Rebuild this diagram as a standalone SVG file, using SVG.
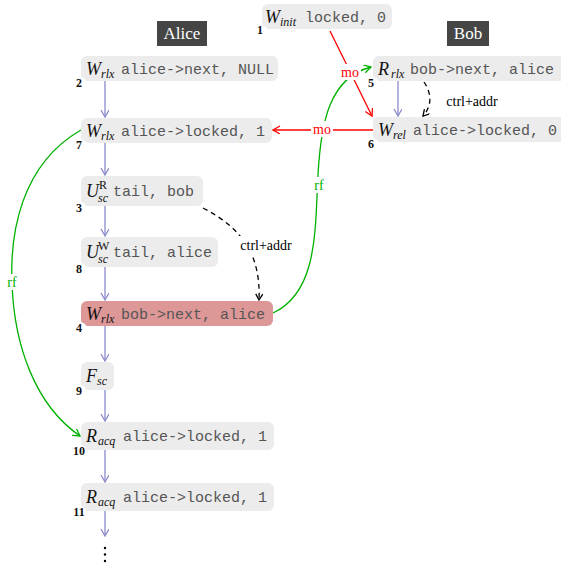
<svg xmlns="http://www.w3.org/2000/svg" width="561" height="567" viewBox="0 0 561 567">
  <style>
    .box { fill: #ececec; }
    .hot { fill: #dd9797; }
    .notch { fill: #ffffff; }
    .num { font-family: "Liberation Serif", serif; font-weight: bold; font-size: 12px; fill: #111; text-anchor: middle; }
    .op { font-family: "Liberation Serif", serif; font-style: italic; font-size: 18px; fill: #111; }
    .sub { font-family: "Liberation Serif", serif; font-style: italic; font-size: 12px; fill: #111; }
    .sup { font-family: "Liberation Serif", serif; font-size: 12px; fill: #111; }
    .code { font-family: "Liberation Mono", monospace; font-size: 15px; fill: #555; }
    .thread { fill: #454545; }
    .thread-t { font-family: "Liberation Serif", serif; font-size: 17px; fill: #fff; text-anchor: middle; }
    .po { stroke: #8a8acc; stroke-width: 1.3; fill: none; }
    .mo { stroke: #ff0000; stroke-width: 1.3; fill: none; }
    .rf { stroke: #00b000; stroke-width: 1.3; fill: none; }
    .dep { stroke: #000; stroke-width: 1.3; fill: none; stroke-dasharray: 5 4; }
    .lbl { font-family: "Liberation Serif", serif; font-size: 14px; text-anchor: middle; }
  </style>
  <defs>
    <marker id="ah-po" markerWidth="10" markerHeight="10" refX="8" refY="4" orient="auto" markerUnits="userSpaceOnUse">
      <path d="M1,0 L8,4 L1,8" fill="none" stroke="#8a8acc" stroke-width="1.3"/>
    </marker>
    <marker id="ah-mo" markerWidth="10" markerHeight="10" refX="8" refY="4" orient="auto" markerUnits="userSpaceOnUse">
      <path d="M1,0 L8,4 L1,8" fill="none" stroke="#ff0000" stroke-width="1.3"/>
    </marker>
    <marker id="ah-rf" markerWidth="10" markerHeight="10" refX="8" refY="4" orient="auto" markerUnits="userSpaceOnUse">
      <path d="M1,0 L8,4 L1,8" fill="none" stroke="#00b000" stroke-width="1.3"/>
    </marker>
    <marker id="ah-dep" markerWidth="10" markerHeight="10" refX="7" refY="3.5" orient="auto" markerUnits="userSpaceOnUse">
      <path d="M1,0 L7,3.5 L1,7" fill="none" stroke="#000" stroke-width="1.3"/>
    </marker>
  </defs>
  <rect width="561" height="567" fill="#ffffff"/>

  <!-- thread headers -->
  <g id="alice">
    <rect class="thread" x="157" y="21" width="50" height="25"/>
    <text class="thread-t" x="182" y="39">Alice</text>
  </g>
  <g id="bob">
    <rect class="thread" x="447" y="21" width="42" height="25"/>
    <text class="thread-t" x="468" y="39">Bob</text>
  </g>

  <!-- connectors -->
  <g id="edges">
    <!-- program order -->
    <line class="po" x1="105" y1="81" x2="105" y2="117" marker-end="url(#ah-po)"/>
    <line class="po" x1="105" y1="143" x2="105" y2="175" marker-end="url(#ah-po)"/>
    <line class="po" x1="105" y1="206" x2="105" y2="236" marker-end="url(#ah-po)"/>
    <line class="po" x1="105" y1="267" x2="105" y2="300" marker-end="url(#ah-po)"/>
    <line class="po" x1="105" y1="326" x2="105" y2="361" marker-end="url(#ah-po)"/>
    <line class="po" x1="105" y1="390" x2="105" y2="421" marker-end="url(#ah-po)"/>
    <line class="po" x1="105" y1="450" x2="105" y2="482" marker-end="url(#ah-po)"/>
    <line class="po" x1="105" y1="511" x2="105" y2="536" marker-end="url(#ah-po)"/>
    <line class="po" x1="398" y1="81" x2="398" y2="116" marker-end="url(#ah-po)"/>

    <!-- reads-from -->
    <path class="rf" d="M81,130 C20,165 10,235 12,283 C14,345 35,405 80,436" marker-end="url(#ah-rf)"/>
    <path class="rf" d="M273,313 C318,292 315,230 318,175 C321,120 330,78 371,67" marker-end="url(#ah-rf)"/>

    <!-- modification order -->
    <line class="mo" x1="330" y1="31" x2="372" y2="116" marker-end="url(#ah-mo)"/>
    <line class="mo" x1="373" y1="130" x2="273" y2="130" marker-end="url(#ah-mo)"/>

    <!-- dependencies -->
    <path class="dep" d="M203,208 C242,228 261,255 259,300" marker-end="url(#ah-dep)"/>
    <path class="dep" d="M424,82 C432,94 432,106 423,116" marker-end="url(#ah-dep)"/>

    <!-- edge labels -->
    <rect x="10" y="274" width="12" height="16" fill="#fff"/>
    <text class="lbl" x="12" y="287" fill="#00b000">rf</text>
    <rect x="312" y="177" width="14" height="16" fill="#fff"/>
    <text class="lbl" x="319" y="190" fill="#00b000">rf</text>
    <rect x="339" y="64" width="22" height="16" fill="#fff"/>
    <text class="lbl" x="350" y="77" fill="#ff0000">mo</text>
    <rect x="311" y="121" width="22" height="16" fill="#fff"/>
    <text class="lbl" x="322" y="134" fill="#ff0000">mo</text>
    <rect x="238" y="236" width="56" height="18" fill="#fff"/>
    <text class="lbl" x="266" y="250" fill="#000">ctrl+addr</text>
    <text class="lbl" x="472" y="106" fill="#000">ctrl+addr</text>

    <!-- continuation -->
    <circle cx="105" cy="548" r="1.2" fill="#000"/>
    <circle cx="105" cy="554.5" r="1.2" fill="#000"/>
    <circle cx="105" cy="561" r="1.2" fill="#000"/>
  </g>

  <!-- events -->
  <g id="n1">
    <rect class="box" x="262" y="4" width="130" height="25" rx="6"/>
    <circle class="notch" cx="261" cy="32" r="7"/>
    <text class="num" x="260" y="34">1</text>
    <text class="op" x="265" y="23">W</text>
    <text class="sub" x="280" y="26">init</text>
    <text class="code" x="305" y="22">locked, 0</text>
  </g>
  <g id="n2">
    <rect class="box" x="81" y="56" width="197" height="25" rx="6"/>
    <circle class="notch" cx="80" cy="84" r="7"/>
    <text class="num" x="79" y="87">2</text>
    <text class="op" x="86" y="75">W</text>
    <text class="sub" x="101" y="78">rlx</text>
    <text class="code" x="121" y="74">alice-&gt;next, NULL</text>
  </g>
  <g id="n7">
    <rect class="box" x="81" y="118" width="191" height="25" rx="6"/>
    <circle class="notch" cx="80" cy="146" r="7"/>
    <text class="num" x="79" y="149">7</text>
    <text class="op" x="86" y="137">W</text>
    <text class="sub" x="101" y="140">rlx</text>
    <text class="code" x="121" y="136">alice-&gt;locked, 1</text>
  </g>
  <g id="n3">
    <rect class="box" x="81" y="176" width="122" height="30" rx="6"/>
    <circle class="notch" cx="80" cy="209" r="7"/>
    <text class="num" x="79" y="212">3</text>
    <text class="op" x="86" y="197">U</text>
    <text class="sup" x="99" y="189">R</text>
    <text class="sub" x="98" y="202">sc</text>
    <text class="code" x="113" y="196">tail, bob</text>
  </g>
  <g id="n8">
    <rect class="box" x="81" y="237" width="137" height="30" rx="6"/>
    <circle class="notch" cx="80" cy="270" r="7"/>
    <text class="num" x="79" y="273">8</text>
    <text class="op" x="86" y="258">U</text>
    <text class="sup" x="98" y="250">W</text>
    <text class="sub" x="98" y="263">sc</text>
    <text class="code" x="113" y="257">tail, alice</text>
  </g>
  <g id="n4">
    <rect class="hot" x="81" y="301" width="192" height="25" rx="6"/>
    <circle class="notch" cx="80" cy="329" r="7"/>
    <text class="num" x="79" y="332">4</text>
    <text class="op" x="86" y="320">W</text>
    <text class="sub" x="101" y="323">rlx</text>
    <text class="code" x="121" y="319">bob-&gt;next, alice</text>
  </g>
  <g id="n9">
    <rect class="box" x="81" y="362" width="33" height="28" rx="6"/>
    <circle class="notch" cx="80" cy="392" r="7"/>
    <text class="num" x="79" y="395">9</text>
    <text class="op" x="86" y="382">F</text>
    <text class="sub" x="97" y="385">sc</text>
  </g>
  <g id="n10">
    <rect class="box" x="81" y="422" width="193" height="28" rx="6"/>
    <circle class="notch" cx="80" cy="452" r="7"/>
    <text class="num" x="79" y="455">10</text>
    <text class="op" x="86" y="442">R</text>
    <text class="sub" x="98" y="445">acq</text>
    <text class="code" x="123" y="441">alice-&gt;locked, 1</text>
  </g>
  <g id="n11">
    <rect class="box" x="81" y="483" width="193" height="28" rx="6"/>
    <circle class="notch" cx="80" cy="513" r="7"/>
    <text class="num" x="79" y="516">11</text>
    <text class="op" x="86" y="503">R</text>
    <text class="sub" x="98" y="506">acq</text>
    <text class="code" x="123" y="502">alice-&gt;locked, 1</text>
  </g>
  <g id="n5">
    <rect class="box" x="373" y="56" width="200" height="25" rx="6"/>
    <circle class="notch" cx="372" cy="84" r="7"/>
    <text class="num" x="371" y="87">5</text>
    <text class="op" x="378" y="75">R</text>
    <text class="sub" x="391" y="78">rlx</text>
    <text class="code" x="410" y="74">bob-&gt;next, alice</text>
  </g>
  <g id="n6">
    <rect class="box" x="373" y="117" width="200" height="25" rx="6"/>
    <circle class="notch" cx="372" cy="145" r="7"/>
    <text class="num" x="371" y="148">6</text>
    <text class="op" x="378" y="136">W</text>
    <text class="sub" x="393" y="139">rel</text>
    <text class="code" x="413" y="135">alice-&gt;locked, 0</text>
  </g>
</svg>
